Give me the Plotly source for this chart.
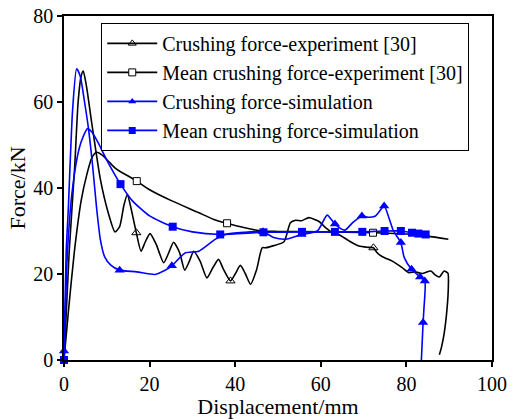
import plotly.graph_objects as go

# Experimental crushing force (displacement in mm, force in kN)
exp_force_x = [0, 1.2, 2.5, 3.3, 4.0, 4.5, 5.2, 6.5, 8.5, 10.4, 11.9, 13.0, 14.0, 14.8, 15.5,
               16.9, 18.0, 19.0, 20.1, 21.5, 23.3, 24.5, 25.6, 27.0, 28.2, 29.3, 30.3, 31.8,
               33.4, 34.8, 36.1, 37.3, 38.9, 40.0, 41.2, 42.4, 43.6, 45.0, 46.3, 47.1, 49.0,
               51.4, 52.9, 54.1, 55.5, 57.2, 59.6, 61.1, 62.5, 64.2, 66.6, 68.9, 71.0, 72.3,
               73.1, 74.4, 76.7, 79.0, 80.6, 82.0, 83.7, 85.7, 86.7, 87.7, 88.8, 89.7, 89.8,
               89.5, 88.8, 88.2, 87.7]
exp_force_y = [0, 25, 45, 60, 66, 67.2, 64, 55, 42, 34, 29.8, 31, 36, 38.5, 36,
               29.6, 25.3, 27.5, 29.4, 27, 22.6, 25, 27.4, 25, 20.9, 23, 25.3, 23,
               19.1, 21.5, 23.4, 21, 18.4, 20, 22, 20, 17.6, 21, 26.1, 26.1, 26.6,
               27.5, 31.9, 32.5, 32.4, 33.1, 32.2, 30.8, 29.8, 29.2, 27.7, 26.5, 26.2, 26.1,
               25, 24, 23, 21.5, 20.3, 20.5, 20.1, 20.7, 19.8, 19.3, 20.7, 20.2, 17,
               12, 6, 3, 1.2]
exp_force_marks = [15, 32, 53]

# Experimental mean crushing force
exp_mean_x = [0, 1.0, 2.4, 4.0, 5.3, 6.5, 7.6, 9.0, 10.5, 11.9, 13.5, 15.0, 17.0, 20.0,
              25.2, 31.4, 35.0, 38.1, 42.0, 46.3, 50.0, 60.0, 72.2, 80.0, 85.0, 89.8]
exp_mean_y = [0, 11, 25, 37, 43, 47, 48.3, 47.6, 46.1, 44.7, 43.6, 42.8, 41.6, 39.6,
              37, 34.3, 32.7, 31.8, 30.8, 30.0, 29.9, 29.8, 29.6, 29.3, 28.8, 28.1]
exp_mean_marks = [12, 17, 22]

# Simulated crushing force
sim_force_x = [0, 0.5, 1.0, 2.0, 2.95, 3.8, 4.8, 5.7, 6.7, 7.6, 8.5, 9.5, 11.0, 13.0,
               17.0, 21.3, 23.5, 25.2, 28.3, 31.5, 35.4, 37.7, 42.0, 46.5, 49.0, 51.8,
               55.5, 59.2, 61.5, 63.3, 65.6, 67.5, 69.6, 71.0, 72.8, 74.8, 75.9, 77.0,
               78.7, 79.5, 81.2, 83.2, 84.3, 84.1, 83.9, 83.5]
sim_force_y = [2.1, 25, 35, 58, 67.7, 66, 60, 54, 45, 35.5, 28, 24, 22, 20.9,
               20.5, 19.9, 20.8, 21.9, 24.9, 25.3, 28.1, 29.2, 29.7, 29.8, 28.5, 28.1,
               29.2, 30, 33.7, 31.6, 30.2, 32, 33.5, 33.2, 33.5, 35.8, 33.1, 30,
               27.3, 23.8, 21.1, 19.3, 18.4, 12, 8.7, 0]
sim_force_marks = [0, 13, 17, 23, 26, 29, 32, 35, 38, 40, 41, 42, 44]

# Simulated mean crushing force
sim_mean_x = [0, 0.8, 2.0, 3.5, 4.5, 5.5, 6.5, 8.0, 10.0, 13.2, 16.0, 20.0, 25.4, 30.0,
              36.5, 46.6, 55.6, 63.3, 69.7, 74.9, 78.7, 81.3, 82.8, 84.5]
sim_mean_y = [0, 25, 40, 49, 52, 53.8, 53, 50.5, 46.5, 40.9, 37, 33.5, 31, 29.8,
              29.2, 29.7, 29.8, 29.8, 29.8, 30, 30, 29.6, 29.4, 29.2]
sim_mean_marks = [0, 9, 12, 14, 15, 16, 17, 18, 19, 20, 21, 22, 23]

x_ticks = [0, 20, 40, 60, 80, 100]
y_ticks = [0, 20, 40, 60, 80]

SERIF = "Liberation Serif"

series = [
    ("Crushing force-experiment [30]", exp_force_x, exp_force_y, exp_force_marks,
     "black", dict(symbol="triangle-up-open", size=8, color="black", line=dict(width=1))),
    ("Mean crushing force-experiment [30]", exp_mean_x, exp_mean_y, exp_mean_marks,
     "black", dict(symbol="square", size=7, color="white", line=dict(width=1, color="black"))),
    ("Crushing force-simulation", sim_force_x, sim_force_y, sim_force_marks,
     "#0000ff", dict(symbol="triangle-up", size=9, color="#0000ff")),
    ("Mean crushing force-simulation", sim_mean_x, sim_mean_y, sim_mean_marks,
     "#0000ff", dict(symbol="square", size=8, color="#0000ff")),
]

fig = go.Figure()
for name, xs, ys, marks, color, marker in series:
    # the curve itself
    fig.add_trace(go.Scatter(
        x=xs, y=ys, mode="lines", showlegend=False,
        line=dict(color=color, width=1.6, shape="spline", smoothing=0.6),
    ))
    # symbols placed on selected samples of the curve
    fig.add_trace(go.Scatter(
        x=[xs[i] for i in marks], y=[ys[i] for i in marks], mode="markers",
        showlegend=False, marker=marker, cliponaxis=False,
    ))
    # legend entry (line with symbol)
    legend_marker = dict(marker)
    legend_marker["size"] = 7
    fig.add_trace(go.Scatter(
        x=[None], y=[None], mode="lines+markers", name=name,
        line=dict(color=color, width=1.6), marker=legend_marker,
    ))

axis_common = dict(
    showgrid=False, zeroline=False, showline=True, linecolor="black", linewidth=1.5,
    mirror=True, ticks="outside", ticklen=5, tickwidth=1.5, tickcolor="black",
    automargin=False,
    tickfont=dict(family=SERIF, size=20, color="black"),
)

fig.update_layout(
    width=512, height=419,
    margin=dict(l=64, r=20, t=16, b=59),
    paper_bgcolor="white", plot_bgcolor="white",
    font=dict(family=SERIF, color="black"),
    xaxis=dict(range=[0, 100], tickvals=x_ticks,
               title=dict(text="Displacement/mm", font=dict(family=SERIF, size=22), standoff=0),
               **axis_common),
    yaxis=dict(range=[0, 80], tickvals=y_ticks,
               title=dict(text="Force/kN", font=dict(family=SERIF, size=22), standoff=2),
               **axis_common),
    legend=dict(x=0.087, y=0.98, xanchor="left", yanchor="top",
                bgcolor="white", bordercolor="black", borderwidth=1,
                font=dict(family=SERIF, size=20), tracegroupgap=0,
                itemwidth=50),
)

fig.write_html("out.html")
